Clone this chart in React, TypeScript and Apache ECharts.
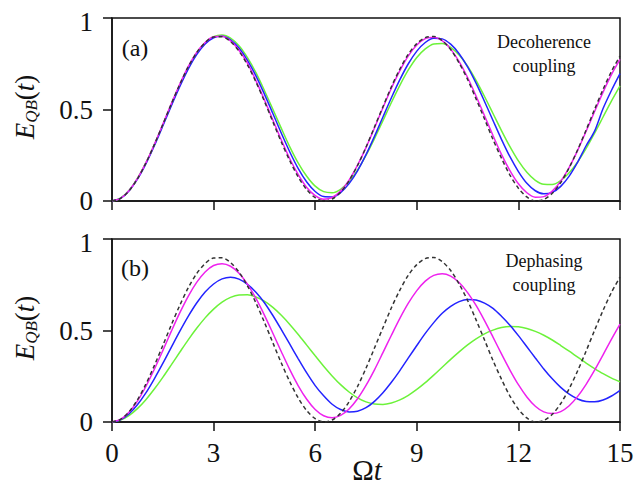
import React, { useEffect, useRef } from "react";
import * as echarts from "echarts";

// time axis Ωt
const T = [0, 0.25, 0.5, 0.75, 1, 1.25, 1.5, 1.75, 2, 2.25, 2.5, 2.75, 3, 3.25, 3.5, 3.75, 4, 4.25, 4.5, 4.75, 5, 5.25, 5.5, 5.75, 6, 6.25, 6.5, 6.75, 7, 7.25, 7.5, 7.75, 8, 8.25, 8.5, 8.75, 9, 9.25, 9.5, 9.75, 10, 10.25, 10.5, 10.75, 11, 11.25, 11.5, 11.75, 12, 12.25, 12.5, 12.75, 13, 13.25, 13.5, 13.75, 14, 14.25, 14.5, 14.75, 15];

// black dashed reference (both panels)
const blackRef = [0, 0.014, 0.055, 0.121, 0.207, 0.308, 0.418, 0.53, 0.637, 0.733, 0.811, 0.866, 0.896, 0.897, 0.871, 0.819, 0.744, 0.651, 0.545, 0.433, 0.322, 0.22, 0.131, 0.062, 0.018, 0.0, 0.011, 0.048, 0.111, 0.194, 0.294, 0.404, 0.515, 0.624, 0.721, 0.802, 0.86, 0.893, 0.899, 0.876, 0.828, 0.754, 0.664, 0.558, 0.448, 0.336, 0.234, 0.142, 0.07, 0.022, 0.001, 0.008, 0.042, 0.101, 0.182, 0.28, 0.388, 0.501, 0.61, 0.709, 0.792];

// (a) decoherence coupling
const decMagenta = [0, 0.014, 0.056, 0.122, 0.208, 0.309, 0.419, 0.531, 0.638, 0.734, 0.812, 0.866, 0.897, 0.9, 0.875, 0.824, 0.753, 0.658, 0.553, 0.443, 0.333, 0.231, 0.144, 0.074, 0.03, 0.01, 0.019, 0.054, 0.114, 0.196, 0.292, 0.399, 0.51, 0.616, 0.712, 0.793, 0.852, 0.887, 0.895, 0.876, 0.83, 0.762, 0.675, 0.574, 0.466, 0.358, 0.255, 0.166, 0.094, 0.045, 0.021, 0.024, 0.054, 0.108, 0.184, 0.277, 0.381, 0.489, 0.595, 0.692, 0.774];
const decBlue = [0, 0.014, 0.055, 0.119, 0.203, 0.302, 0.41, 0.52, 0.625, 0.721, 0.8, 0.858, 0.892, 0.9, 0.881, 0.836, 0.769, 0.684, 0.584, 0.478, 0.37, 0.268, 0.177, 0.104, 0.052, 0.024, 0.022, 0.046, 0.095, 0.165, 0.253, 0.353, 0.459, 0.564, 0.663, 0.75, 0.819, 0.866, 0.889, 0.886, 0.857, 0.805, 0.733, 0.644, 0.544, 0.44, 0.337, 0.242, 0.161, 0.097, 0.056, 0.039, 0.047, 0.08, 0.136, 0.212, 0.302, 0.382, 0.505, 0.605, 0.696];
const decGreen = [0, 0.015, 0.057, 0.123, 0.208, 0.307, 0.415, 0.525, 0.631, 0.726, 0.806, 0.864, 0.898, 0.907, 0.89, 0.848, 0.783, 0.701, 0.604, 0.501, 0.397, 0.296, 0.207, 0.135, 0.081, 0.051, 0.045, 0.064, 0.106, 0.169, 0.249, 0.341, 0.439, 0.538, 0.632, 0.716, 0.784, 0.831, 0.858, 0.861, 0.84, 0.798, 0.737, 0.659, 0.571, 0.478, 0.385, 0.297, 0.219, 0.157, 0.113, 0.091, 0.09, 0.112, 0.154, 0.213, 0.287, 0.371, 0.459, 0.547, 0.629];

// (b) dephasing coupling
const dephMagenta = [0, 0.014, 0.053, 0.114, 0.194, 0.288, 0.39, 0.495, 0.596, 0.687, 0.763, 0.82, 0.855, 0.865, 0.851, 0.813, 0.753, 0.675, 0.584, 0.485, 0.384, 0.286, 0.198, 0.124, 0.068, 0.034, 0.023, 0.036, 0.071, 0.127, 0.2, 0.285, 0.379, 0.474, 0.566, 0.649, 0.718, 0.77, 0.801, 0.81, 0.797, 0.762, 0.707, 0.637, 0.554, 0.464, 0.372, 0.284, 0.204, 0.137, 0.086, 0.055, 0.046, 0.057, 0.089, 0.14, 0.206, 0.283, 0.367, 0.453, 0.535];
const dephBlue = [0, 0.012, 0.044, 0.094, 0.159, 0.236, 0.32, 0.408, 0.495, 0.577, 0.65, 0.71, 0.754, 0.782, 0.791, 0.781, 0.752, 0.709, 0.652, 0.582, 0.505, 0.425, 0.345, 0.268, 0.199, 0.143, 0.097, 0.068, 0.055, 0.059, 0.078, 0.113, 0.16, 0.217, 0.281, 0.35, 0.418, 0.484, 0.543, 0.594, 0.632, 0.658, 0.67, 0.667, 0.65, 0.621, 0.578, 0.529, 0.472, 0.411, 0.35, 0.29, 0.236, 0.189, 0.152, 0.126, 0.112, 0.11, 0.12, 0.142, 0.173];
const dephGreen = [0, 0.01, 0.035, 0.073, 0.122, 0.18, 0.244, 0.312, 0.381, 0.449, 0.512, 0.569, 0.617, 0.655, 0.681, 0.694, 0.695, 0.683, 0.66, 0.626, 0.583, 0.533, 0.478, 0.42, 0.362, 0.305, 0.252, 0.204, 0.164, 0.132, 0.11, 0.098, 0.096, 0.104, 0.121, 0.146, 0.178, 0.215, 0.256, 0.299, 0.342, 0.383, 0.421, 0.454, 0.482, 0.502, 0.516, 0.522, 0.52, 0.511, 0.495, 0.474, 0.448, 0.418, 0.387, 0.354, 0.322, 0.292, 0.264, 0.24, 0.22];

const xTicks = { min: 0, max: 15, interval: 3 };
const yTicks = { min: 0, max: 1, interval: 0.5 };

const FONT = "Liberation Serif";
const INK = "#111";
const C_MAG = "#ee22ee";
const C_BLUE = "#2323ff";
const C_GREEN = "#6cf23a";
const C_BLACK = "#333";

const pairs = (ys: number[]) => ys.map((y, i) => [T[i], y]);

export default function App() {
  const ref = useRef<HTMLDivElement>(null);
  useEffect(() => {
    if (!ref.current) return;
    const chart = echarts.init(ref.current, undefined, { renderer: "svg" });

    const grids = [
      { left: 112, top: 18, width: 508, height: 183 },
      { left: 112, top: 239, width: 508, height: 183 },
    ].map((g) => ({
      ...g,
      show: true,
      borderColor: INK,
      borderWidth: 1.5,
      backgroundColor: "transparent",
      containLabel: false,
      outerBoundsMode: "none",
    }));

    const mkX = (idx: number, showLabels: boolean) => ({
      type: "value",
      gridIndex: idx,
      ...xTicks,
      axisLine: { show: true, lineStyle: { color: INK, width: 1.5 } },
      axisTick: { show: true, inside: false, length: 9, lineStyle: { color: INK, width: 1.5 } },
      splitLine: { show: false },
      axisLabel: {
        show: showLabels,
        margin: 17,
        fontFamily: FONT,
        fontSize: 27,
        color: INK,
      },
    });
    const mkY = (idx: number) => ({
      type: "value",
      gridIndex: idx,
      ...yTicks,
      axisLine: { show: true, lineStyle: { color: INK, width: 1.5 } },
      axisTick: { show: true, inside: false, length: 9, lineStyle: { color: INK, width: 1.5 } },
      splitLine: { show: false },
      axisLabel: {
        margin: 19,
        fontFamily: FONT,
        fontSize: 27,
        color: INK,
        formatter: (v: number) => (v === 1 ? "{one|1}" : String(v)),
        rich: {
          one: { fontFamily: FONT, fontSize: 27, color: INK, padding: [8, 0, 0, 0] },
        },
      },
    });

    const line = (name: string, idx: number, ys: number[], color: string, dashed = false) => ({
      name,
      type: "line",
      xAxisIndex: idx,
      yAxisIndex: idx,
      data: pairs(ys),
      smooth: 0.3,
      symbol: "none",
      silent: true,
      lineStyle: dashed
        ? { color, width: 1.5, type: [4, 3] }
        : { color, width: 1.5 },
      z: dashed ? 5 : 3,
    });

    const yName = (cy: number) => ({
      type: "text",
      x: 25,
      y: cy,
      rotation: Math.PI / 2,
      style: {
        text: "{e|E}{s|QB}{p|(}{t|t}{p|)}",
        align: "center",
        verticalAlign: "middle",
        rich: {
          e: { fontFamily: FONT, fontStyle: "italic", fontSize: 27, lineHeight: 30, fill: INK },
          s: { fontFamily: FONT, fontStyle: "italic", fontSize: 17, lineHeight: 18, verticalAlign: "bottom", fill: INK },
          p: { fontFamily: FONT, fontSize: 27, lineHeight: 30, fill: INK },
          t: { fontFamily: FONT, fontStyle: "italic", fontSize: 27, lineHeight: 30, fill: INK },
        },
      },
    });

    const label = (x: number, y: number, text: string, size: number, lh?: number) => ({
      type: "text",
      x,
      y,
      style: {
        text,
        fontFamily: FONT,
        fontSize: size,
        lineHeight: lh,
        fill: INK,
        align: "center",
        verticalAlign: "middle",
      },
    });

    chart.setOption({
      animation: false,
      backgroundColor: "#fff",
      textStyle: { fontFamily: FONT },
      grid: grids,
      xAxis: [mkX(0, false), mkX(1, true)],
      yAxis: [mkY(0), mkY(1)],
      series: [
        line("a-green", 0, decGreen, C_GREEN),
        line("a-blue", 0, decBlue, C_BLUE),
        line("a-magenta", 0, decMagenta, C_MAG),
        line("a-black", 0, blackRef, C_BLACK, true),
        line("b-green", 1, dephGreen, C_GREEN),
        line("b-blue", 1, dephBlue, C_BLUE),
        line("b-magenta", 1, dephMagenta, C_MAG),
        line("b-black", 1, blackRef, C_BLACK, true),
      ],
      graphic: [
        yName(107),
        yName(328),
        label(135, 48, "(a)", 24),
        label(135, 268, "(b)", 24),
        label(544, 54, "Decoherence\ncoupling", 18, 24),
        label(544, 273, "Dephasing\ncoupling", 18, 24),
        {
          type: "text",
          x: 367,
          y: 470,
          style: {
            text: "{o|Ω}{t|t}",
            align: "center",
            verticalAlign: "middle",
            rich: {
              o: { fontFamily: FONT, fontSize: 29, fill: INK },
              t: { fontFamily: FONT, fontStyle: "italic", fontSize: 29, fill: INK },
            },
          },
        },
      ],
    });
    return () => chart.dispose();
  }, []);
  return (
    <div
      ref={ref}
      style={{ position: "absolute", left: 0, top: 0, width: 636, height: 485, background: "#fff" }}
    />
  );
}
